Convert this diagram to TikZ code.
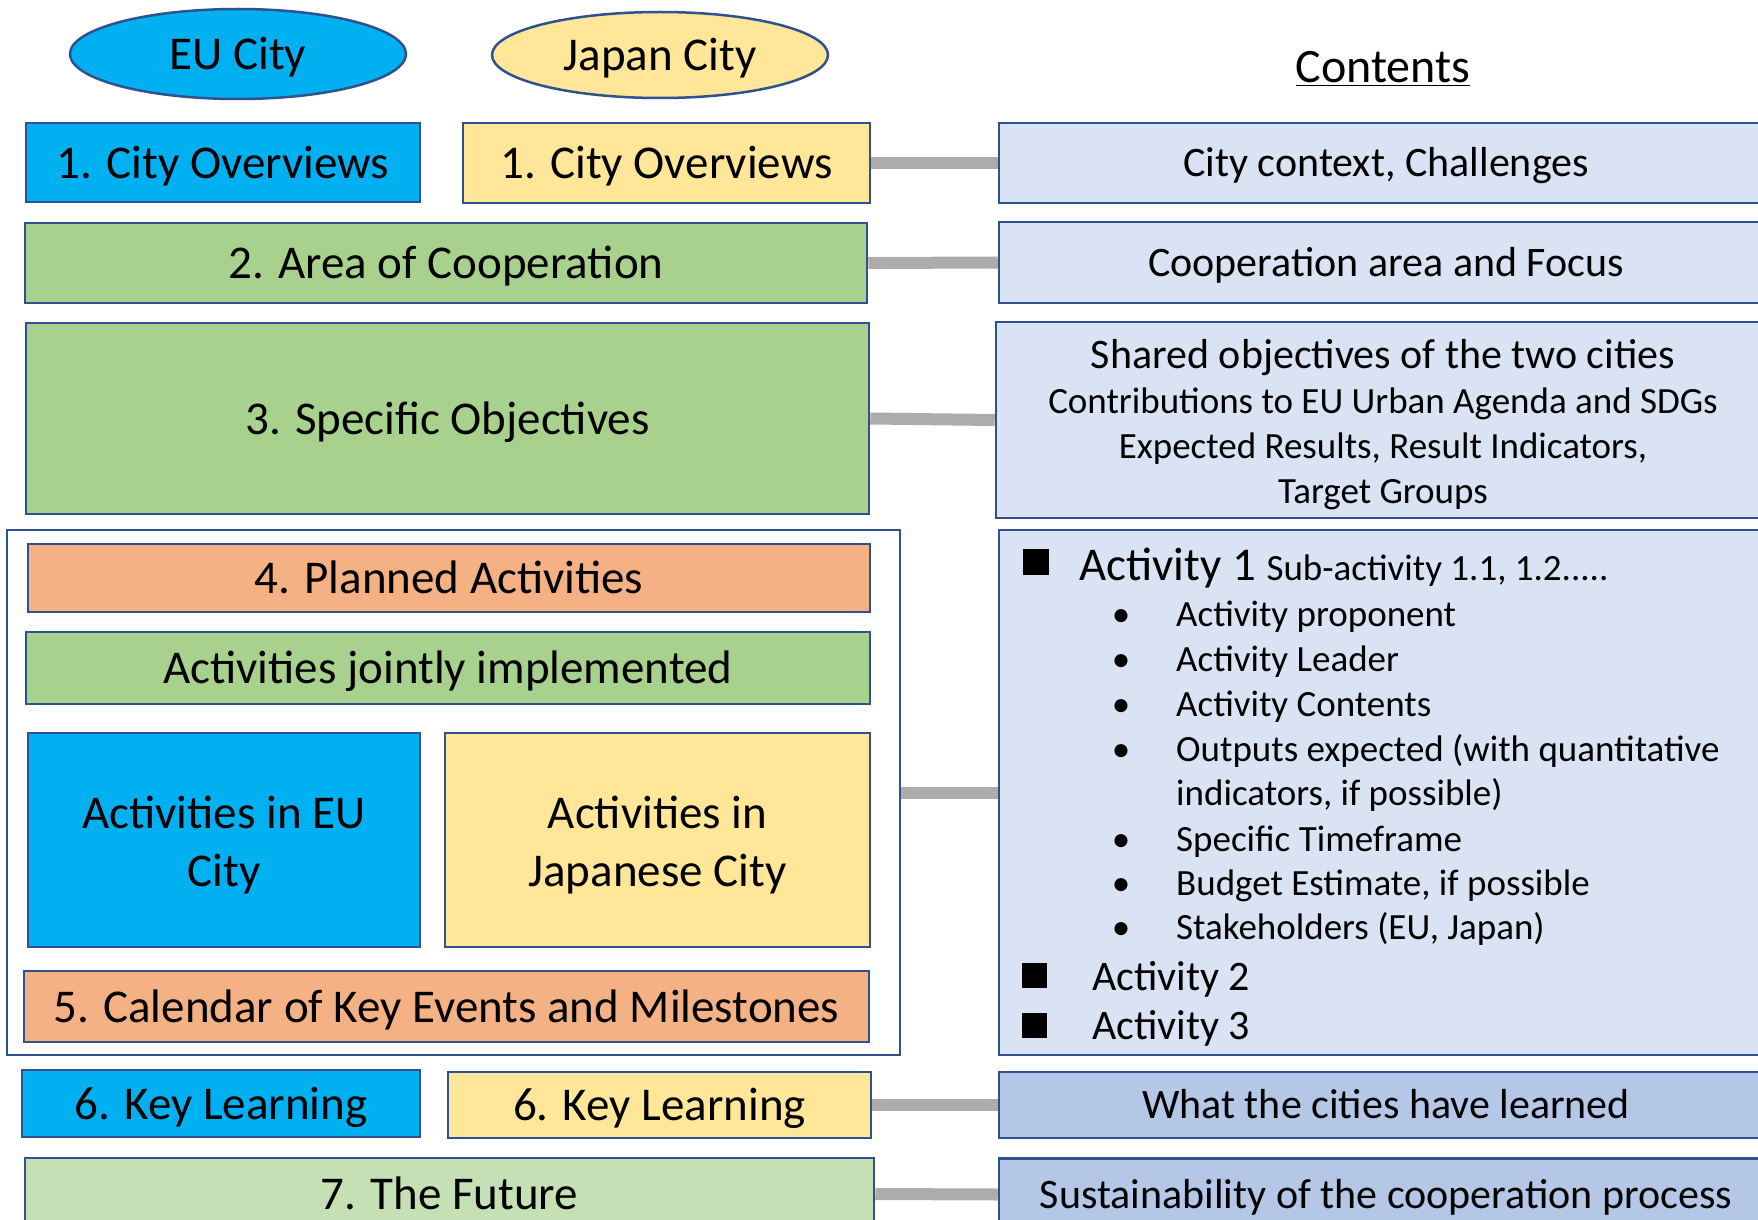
\documentclass[tikz,border=0pt]{standalone}
\usepackage{fontspec}
\setmainfont{Carlito}
\usetikzlibrary{shapes.geometric}
\definecolor{eublue}{HTML}{00B0F0}
\definecolor{jpyellow}{HTML}{FFE699}
\definecolor{coopgreen}{HTML}{A9D18E}
\definecolor{futgreen}{HTML}{C5E0B4}
\definecolor{planorange}{HTML}{F4B183}
\definecolor{contblue}{HTML}{DAE3F3}
\definecolor{learnblue}{HTML}{B4C7E7}
\definecolor{edgeblue}{HTML}{2F528F}
\definecolor{linkgray}{HTML}{AEABAB}
\newcommand{\labelsize}{\fontsize{47}{58}\selectfont}
\newcommand{\contsize}{\fontsize{42}{47}\selectfont}
\newcommand{\itemsize}{\fontsize{37}{45}\selectfont}
\newcommand{\boxstrut}{\rule[-0.2em]{0pt}{1.06em}}
\newcommand{\firstline}{\rule{0pt}{0.95em}}

\begin{document}
\begin{tikzpicture}[x=1pt, y=-1pt]
    \tikzstyle{box} = [draw=edgeblue, line width=2.5pt, inner sep=0pt, text centered, align=center, font=\labelsize\boxstrut]
    \tikzstyle{city} = [box, ellipse, minimum width=336pt]
    \tikzstyle{cbox} = [box, fill=contblue, minimum width=774pt, font=\contsize\boxstrut]
    \tikzstyle{square} = [fill=black, inner sep=0pt]
    \tikzstyle{link} = [draw=linkgray, line width=12pt]
    \clip (0,0) rectangle (1758,1220);
    \fill[white] (0,0) rectangle (1758,1220);
    % headers
    \node [city, fill=eublue, minimum height=90pt] at (238,54) (eucity) {EU City};
    \node [city, fill=jpyellow, minimum height=86pt] at (660,55) (jpcity) {Japan City};
    \node [anchor=base] at (1383,83) (contents) {\fontsize{48}{58}\selectfont\underline{Contents}};
    % left column
    \node [box, fill=eublue, minimum width=394pt, minimum height=79pt] at (223,162.5) (euover) {1. City Overviews};
    \node [box, fill=jpyellow, minimum width=407pt, minimum height=80pt] at (666.5,163) (jpover) {1. City Overviews};
    \node [box, fill=coopgreen, minimum width=842pt, minimum height=80pt] at (446,263) (area) {2. Area of Cooperation};
    \node [box, fill=coopgreen, minimum width=843pt, minimum height=191pt] at (447.5,418.5) (objectives) {3. Specific Objectives};
    \node [box, fill=white, line width=2pt, minimum width=893pt, minimum height=525pt] at (453.5,792.5) (activities) {};
    \node [box, fill=planorange, minimum width=842pt, minimum height=68pt] at (449,578) (planned) {4. Planned Activities};
    \node [box, fill=coopgreen, minimum width=844pt, minimum height=72pt] at (448,668) (jointly) {Activities jointly implemented};
    \node [box, fill=eublue, minimum width=392pt, minimum height=214pt] at (224,840) (euact) {\firstline Activities in EU\\City};
    \node [box, fill=jpyellow, minimum width=425pt, minimum height=214pt] at (657.5,840) (jpact) {\firstline Activities in\\Japanese City};
    \node [box, fill=planorange, minimum width=845pt, minimum height=71pt] at (446.5,1006.5) (calendar) {5. Calendar of Key Events and Milestones};
    \node [box, fill=eublue, minimum width=398pt, minimum height=67pt] at (221,1103.5) (eulearn) {6. Key Learning};
    \node [box, fill=jpyellow, minimum width=423pt, minimum height=66pt] at (659.5,1105) (jplearn) {6. Key Learning};
    \node [box, fill=futgreen, minimum width=849pt, minimum height=72pt] at (449.5,1194) (future) {7. The Future};
    % contents column
    \node [cbox, minimum height=80pt] at (1386,163) (context) {City context, Challenges};
    \node [cbox, minimum height=81pt] at (1386,262.5) (focus) {Cooperation area and Focus};
    \node [cbox, minimum height=196pt] at (1383,420) (shared) {\contsize\firstline Shared objectives of the two cities\\[-2pt]
        \itemsize Contributions to EU Urban Agenda and SDGs\\[-2pt]
        \itemsize Expected Results, Result Indicators,\\[-2pt]
        \itemsize Target Groups};
    \node [cbox, minimum height=525pt] at (1386,792.5) (actlist) {};
    \node [cbox, fill=learnblue, minimum height=66pt] at (1386,1105) (learned) {What the cities have learned};
    \node [cbox, fill=learnblue, minimum height=72pt] at (1386,1194.5) (sustain) {Sustainability of the cooperation process};
    % activity list
    \node [square, minimum size=26pt] at (1035.5,562) (sq1) {};
    \node [anchor=base west, inner sep=0pt] at (1079,580) (act1) {\labelsize Activity 1 {\itemsize Sub-activity 1.1, 1.2.....}};
    \foreach \y/\t in {626/Activity proponent, 671/Activity Leader, 716/Activity Contents,
        761/Outputs expected (with quantitative, 851/Specific Timeframe,
        895/{Budget Estimate, if possible}, 939/{Stakeholders (EU, Japan)}} {
        \node [anchor=base, inner sep=0pt] at (1121,\y) (dot\y) {\itemsize\textbullet};
        \node [anchor=base west, inner sep=0pt] at (1176,\y) (item\y) {\itemsize \t};
    }
    \node [anchor=base west, inner sep=0pt] at (1176,805) (item805) {\itemsize indicators, if possible)};
    \node [square, minimum size=25pt] at (1034.5,975.5) (sq2) {};
    \node [anchor=base west, inner sep=0pt] at (1092,990) (act2) {\contsize Activity 2};
    \node [square, minimum size=25pt] at (1034.5,1025.5) (sq3) {};
    \node [anchor=base west, inner sep=0pt] at (1092,1039) (act3) {\contsize Activity 3};
    % links
    \draw [link] (jpover.east) -- (context.west);
    \draw [link] (area.east) -- (focus.west);
    \draw [link] (objectives.east) -- (shared.west);
    \draw [link] (activities.east) -- (actlist.west);
    \draw [link] (jplearn.east) -- (learned.west);
    \draw [link] (future.east) -- (sustain.west);
\end{tikzpicture}
\end{document}
